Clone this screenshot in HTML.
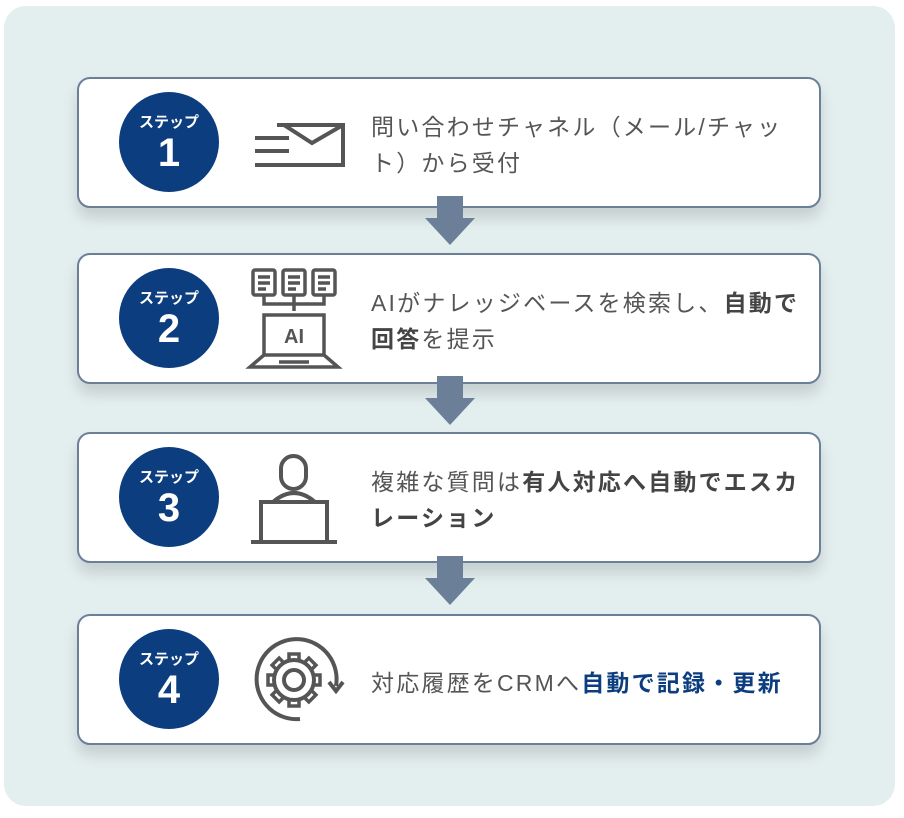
<!DOCTYPE html>
<html><head><meta charset="utf-8"><style>
body{margin:0;width:904px;height:818px;background:#fff;font-family:"Liberation Sans","Noto Sans CJK JP",sans-serif;}
.bg{position:absolute;left:4px;top:6px;width:891px;height:800px;background:#e3eeee;border-radius:22px;}
.card{position:absolute;left:77px;width:740px;height:127px;background:#fff;border:2px solid #6b7f99;border-radius:13px;box-shadow:0 10px 14px rgba(0,0,0,0.13);}
.circ{position:absolute;left:40px;top:13px;width:100px;height:100px;border-radius:50%;background:#0c3d7f;color:#fff;text-align:center;}
.circ .s{font-size:15px;font-weight:bold;margin-top:22px;line-height:18px;}
.circ .n{font-size:40px;font-weight:bold;line-height:42px;}
.txt{position:absolute;left:292px;font-size:23px;color:#555;line-height:36px;width:460px;letter-spacing:2.2px;white-space:nowrap;}
.txt b{color:#444}
.icon{position:absolute;left:165px;top:0;}
.arr{position:absolute;left:423px;}
</style></head><body>
<div class="bg"></div>

<div class="card" style="top:77px">
<div class="circ"><div class="s">ステップ</div><div class="n">1</div></div>
<svg class="icon" width="110" height="127"><g stroke="#555" stroke-width="4" fill="none"><polyline points="33,46 99,46 99,86 11,86"/><polyline points="40,46 68,64 99,46"/><line x1="11" y1="59" x2="45" y2="59"/><line x1="11" y1="72" x2="45" y2="72"/></g></svg>
<div class="txt" style="top:30px">問い合わせチャネル（メール/チャッ<br>ト）から受付</div>
</div>

<div class="card" style="top:253px">
<div class="circ"><div class="s">ステップ</div><div class="n">2</div></div>
<svg class="icon" width="110" height="127"><g stroke="#555" stroke-width="3.5" fill="none"><rect x="9" y="15" width="22" height="25" rx="2"/><rect x="39" y="15" width="22" height="25" rx="2"/><rect x="69" y="15" width="22" height="25" rx="2"/><path d="M14,22h12M14,28h12M14,34h8M44,22h12M44,28h12M44,34h8M74,22h12M74,28h12M74,34h8"/><path d="M20,40v9h60v-9M50,40v16"/><rect x="20" y="60" width="60" height="40"/><path d="M20,100 L6,112 L94,112 L80,100"/><line x1="35" y1="107" x2="65" y2="107"/></g><text x="50" y="88" text-anchor="middle" font-size="20" font-weight="bold" fill="#555" font-family="Liberation Sans">AI</text></svg>
<div class="txt" style="top:30px">AIがナレッジベースを検索し、<b>自動で</b><br><b>回答</b>を提示</div>
</div>

<div class="card" style="top:432px">
<div class="circ"><div class="s">ステップ</div><div class="n">3</div></div>
<svg class="icon" width="110" height="127"><g stroke="#555" stroke-width="4" fill="none"><rect x="37" y="22" width="25" height="33" rx="12.5"/><path d="M29,68 Q50,50 71,68"/><rect x="17" y="68" width="66" height="40"/><line x1="7" y1="108" x2="93" y2="108"/></g></svg>
<div class="txt" style="top:30px">複雑な質問は<b>有人対応へ自動でエスカ</b><br><b>レーション</b></div>
</div>

<div class="card" style="top:614px">
<div class="circ"><div class="s">ステップ</div><div class="n">4</div></div>
<svg class="icon" width="110" height="127"><g stroke="#555" stroke-width="4" fill="none"><path d="M92,70 A40,40 0 1 0 56,103"/><polyline points="85,66 92,75 99,66"/></g><g fill="#fff" stroke="#555" stroke-width="3.5"><rect x="45" y="38" width="10" height="8" transform="rotate(0 50 64)"/><rect x="45" y="38" width="10" height="8" transform="rotate(45 50 64)"/><rect x="45" y="38" width="10" height="8" transform="rotate(90 50 64)"/><rect x="45" y="38" width="10" height="8" transform="rotate(135 50 64)"/><rect x="45" y="38" width="10" height="8" transform="rotate(180 50 64)"/><rect x="45" y="38" width="10" height="8" transform="rotate(225 50 64)"/><rect x="45" y="38" width="10" height="8" transform="rotate(270 50 64)"/><rect x="45" y="38" width="10" height="8" transform="rotate(315 50 64)"/></g><circle cx="50" cy="64" r="18.5" fill="#fff"/><circle cx="50" cy="64" r="20" fill="none" stroke="#555" stroke-width="4"/><circle cx="50" cy="64" r="10" fill="none" stroke="#555" stroke-width="4"/></svg>
<div class="txt" style="top:49px">対応履歴をCRMへ<b style="color:#0c3d7f">自動で記録・更新</b></div>
</div>

<svg class="arr" style="top:196px" width="54" height="50"><polygon points="14,0 40,0 40,22 52,22 27,49 2,22 14,22" fill="#6b7f99"/></svg>
<svg class="arr" style="top:376px" width="54" height="50"><polygon points="14,0 40,0 40,22 52,22 27,49 2,22 14,22" fill="#6b7f99"/></svg>
<svg class="arr" style="top:556px" width="54" height="50"><polygon points="14,0 40,0 40,22 52,22 27,49 2,22 14,22" fill="#6b7f99"/></svg>
</body></html>
